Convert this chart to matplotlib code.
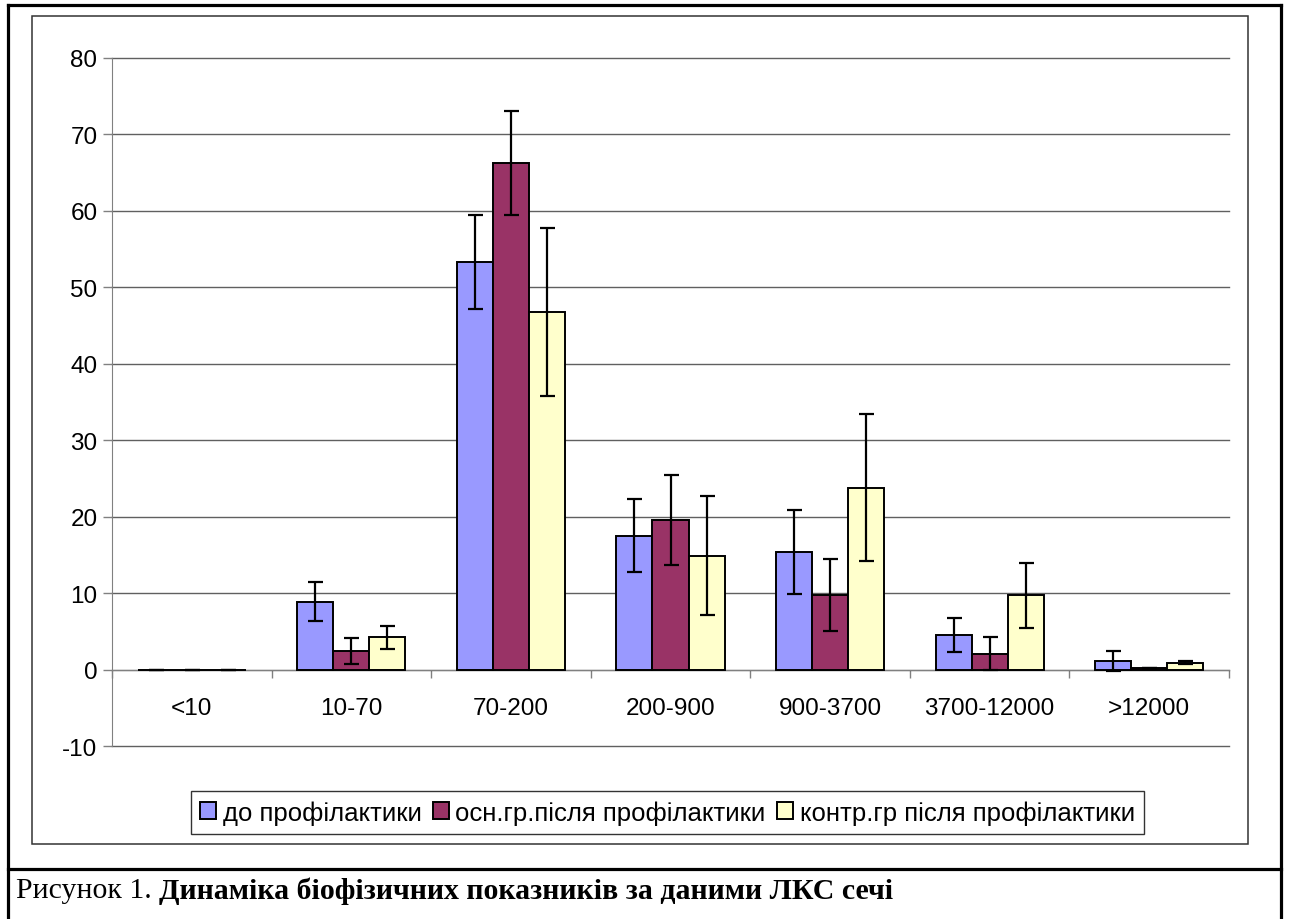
import numpy as np
import matplotlib
matplotlib.use('Agg')
import matplotlib.pyplot as plt
from matplotlib.lines import Line2D
from matplotlib.patches import Rectangle

categories = ['<10', '10-70', '70-200', '200-900', '900-3700', '3700-12000', '>12000']
series_names = ['до профілактики', 'осн.гр.після профілактики', 'контр.гр після профілактики']
before = [0, 8.9, 53.3, 17.5, 15.4, 4.5, 1.1]
before_err = [0, 2.6, 6.1, 4.8, 5.5, 2.2, 1.3]
main_after = [0, 2.4, 66.3, 19.6, 9.7, 2.1, 0.15]
main_err = [0, 1.7, 6.8, 5.9, 4.7, 2.1, 0.0]
control_after = [0, 4.2, 46.8, 14.9, 23.8, 9.7, 0.9]
control_err = [0, 1.5, 11.0, 7.8, 9.6, 4.3, 0.2]
yticks = list(range(-10, 81, 10))

colors = ['#9999FF', '#993366', '#FFFFCC']
grid_c = '#606060'

plt.rcParams['font.family'] = ['Liberation Sans', 'DejaVu Sans']
plt.rcParams['axes.unicode_minus'] = False

W, H = 1290, 920
fig = plt.figure(figsize=(W / 100, H / 100), dpi=100)
ax = fig.add_axes([112 / W, 1 - 747 / H, (1229 - 112) / W, (747 - 59) / H])

x = np.arange(len(categories))
bw = 0.226
handles = []
for i, (vals, errs) in enumerate([(before, before_err), (main_after, main_err),
                                  (control_after, control_err)]):
    b = ax.bar(x + (i - 1) * bw, vals, bw, yerr=errs, color=colors[i],
               edgecolor='black', linewidth=1.4, zorder=3,
               error_kw=dict(ecolor='black', elinewidth=1.6, capsize=5.4,
                             capthick=1.6, zorder=4),
               label=series_names[i])
    handles.append(b)

ax.set_xlim(-0.5, len(categories) - 0.5)
ax.set_ylim(-10, 80)
ax.set_yticks(yticks)
ax.yaxis.grid(True, color=grid_c, linewidth=1.0, zorder=0)
for gl in ax.get_ygridlines():
    gl.set_clip_on(False)
ax.set_axisbelow(True)

for s in ['top', 'right']:
    ax.spines[s].set_visible(False)
ax.spines['left'].set_color('#808080')
ax.spines['bottom'].set_position(('data', 0))
ax.spines['bottom'].set_color('#808080')
ax.spines['bottom'].set_zorder(2)

# category boundaries as major ticks, names on minor ticks
ax.set_xticks(np.arange(len(categories) + 1) - 0.5)
ax.set_xticklabels([])
ax.set_xticks(x, minor=True)
ax.set_xticklabels(categories, minor=True)
ax.tick_params(axis='x', which='major', direction='out', length=5.5,
               color='#808080', width=1)
ax.tick_params(axis='x', which='minor', length=0, pad=20, labelsize=17.5)
ax.tick_params(axis='y', direction='out', length=6.5, color='#808080',
               width=1, labelsize=17.5, pad=4)

# outer frame of the figure table
lw_thick = 2.3
fig.add_artist(Line2D([8 / W, 8 / W], [0, 1 - 6 / H], transform=fig.transFigure,
                      color='black', lw=lw_thick))
fig.add_artist(Line2D([1281 / W, 1281 / W], [0, 1 - 6 / H], transform=fig.transFigure,
                      color='black', lw=lw_thick))
fig.add_artist(Line2D([8 / W, 1281 / W], [1 - 6 / H, 1 - 6 / H], transform=fig.transFigure,
                      color='black', lw=lw_thick))
fig.add_artist(Line2D([8 / W, 1281 / W], [1 - 870 / H, 1 - 870 / H], transform=fig.transFigure,
                      color='black', lw=lw_thick))
# chart area frame
fig.add_artist(Rectangle((32 / W, 1 - 845 / H), (1248 - 32) / W, (845 - 17) / H,
                         transform=fig.transFigure, fill=False,
                         edgecolor='#333333', lw=1.1))

leg = fig.legend(handles=handles, loc='center',
                 bbox_to_anchor=((197 + 1138) / 2 / W, 1 - 813.5 / H),
                 ncol=3, fontsize=18.5, frameon=True, fancybox=False,
                 edgecolor='black', handlelength=0.62, handleheight=0.62,
                 handletextpad=0.25, columnspacing=0.45, borderpad=0.35,
                 borderaxespad=0)
leg.get_frame().set_linewidth(1.0)

# caption: regular prefix followed by bold text
cap_y = 1 - 891 / H
t1 = fig.text(16 / W, cap_y, 'Рисунок 1. ', family='Liberation Serif',
              fontsize=21.5, va='center', ha='left')
fig.canvas.draw()
bb = t1.get_window_extent(renderer=fig.canvas.get_renderer())
fig.text(bb.x1 / W, cap_y, 'Динаміка біофізичних показників за даними ЛКС сечі',
         family='Liberation Serif', fontsize=21.5, fontweight='bold',
         va='center', ha='left')

fig.savefig('out.png', dpi=100)
